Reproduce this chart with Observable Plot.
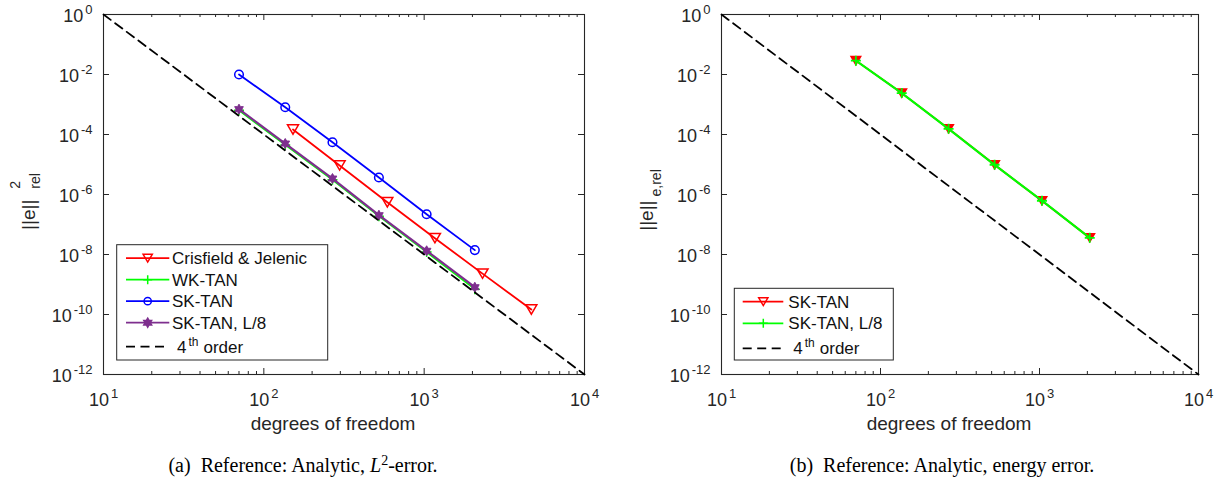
<!DOCTYPE html>
<html><head><meta charset="utf-8">
<script src="https://cdn.jsdelivr.net/npm/d3@7"></script>
<script src="https://cdn.jsdelivr.net/npm/@observablehq/plot@0.6"></script>
<style>
body{margin:0;background:#fff;width:1225px;height:482px;position:relative;overflow:hidden;font-family:"Liberation Sans",Arial,sans-serif;}
.panel{position:absolute;top:0;}
.cap{position:absolute;font-family:"Liberation Serif","Times New Roman",serif;font-size:20px;line-height:20px;white-space:pre;text-align:center;width:500px;color:#000;}
.cap .sp{font-size:14px;position:relative;top:-7px;}
</style></head><body>
<div id="a" class="panel" style="left:0"></div>
<div id="b" class="panel" style="left:612px"></div>
<div class="cap" style="left:53px;top:455px">(a)  Reference: Analytic, <i>L</i><span class="sp">2</span>-error.</div>
<div class="cap" style="left:692px;top:455px">(b)  Reference: Analytic, energy error.</div>
<script>
// ---------- data ----------
const dof   = [70, 136, 268, 522, 1036, 2070];
const dofCJ = [152, 297, 589, 1167, 2312, 4660];
const errCJ   = [1.47e-4, 9.3e-6, 5.5e-7, 3.5e-8, 2.3e-9, 1.47e-10];
const errWK   = [6.4e-4, 4.5e-5, 3.1e-6, 1.9e-7, 1.2e-8, 7.0e-10];
const errSK   = [1.0e-2, 8.1e-4, 5.5e-5, 3.7e-6, 2.2e-7, 1.4e-8];
const errSKL8 = [7.0e-4, 5.0e-5, 3.4e-6, 2.04e-7, 1.33e-8, 8.1e-10];
const errE_SK   = [2.9e-2, 2.4e-3, 1.55e-4, 9.8e-6, 6.2e-7, 3.6e-8];
const errE_SKL8 = [2.9e-2, 2.4e-3, 1.55e-4, 9.8e-6, 6.2e-7, 3.6e-8];
const refDof = [10, 10000];
const refErr = [1, 1e-12];
const xTicks = [10, 100, 1000, 10000];
const xMinor = [20,30,40,50,60,70,80,90,200,300,400,500,600,700,800,900,2000,3000,4000,5000,6000,7000,8000,9000];
const yTicks = [1, 1e-2, 1e-4, 1e-6, 1e-8, 1e-10, 1e-12];
const xLabel = "degrees of freedom";
const yLabelA = {base: "||e||", sup: "2", sub: "rel"};
const yLabelB = {base: "||e||", sub: "e,rel"};
const namesA = ["Crisfield & Jelenic", "WK-TAN", "SK-TAN", "SK-TAN, L/8", "4th order"];
const namesB = ["SK-TAN", "SK-TAN, L/8", "4th order"];

// ---------- styles ----------
const RED = "#ff0000", GREEN = "#00ff00", BLUE = "#0000ff", PURPLE = "#7e2f8e", AX = "#262626";
const FONT = "'Liberation Sans', Arial, sans-serif";
const triDown = {draw(ctx, size){ const r = Math.sqrt(size/Math.PI), h = r*0.85; ctx.moveTo(-r,-h); ctx.lineTo(r,-h); ctx.lineTo(0,h); ctx.closePath(); }};
const plusSym = {draw(ctx, size){ const r = Math.sqrt(size/Math.PI); ctx.moveTo(-r,0); ctx.lineTo(r,0); ctx.moveTo(0,-r); ctx.lineTo(0,r); }};
const circSym = {draw(ctx, size){ const r = Math.sqrt(size/Math.PI); ctx.moveTo(r,0); ctx.arc(0,0,r,0,2*Math.PI); }};
const hexagram = {draw(ctx, size){ const R = Math.sqrt(size/Math.PI), ri = R/Math.sqrt(3);
  for (let i=0;i<12;i++){ const a = -Math.PI/2 + i*Math.PI/6, rr = i%2 ? ri : R; const x = rr*Math.cos(a), y = rr*Math.sin(a); if(i) ctx.lineTo(x,y); else ctx.moveTo(x,y);} ctx.closePath(); }};

const rows = (xs, ys) => xs.map((x,i) => ({x, y: ys[i]}));
const refRows = rows(refDof, refErr);

function frameMarks(W){
  return [
    Plot.frame({stroke: AX, strokeWidth: 1.1}),
    Plot.tickX(xTicks, {x: d=>d, insetBottom: 354, stroke: AX}),
    Plot.tickX(xTicks, {x: d=>d, insetTop: 354, stroke: AX}),
    Plot.tickX(xMinor, {x: d=>d, insetBottom: 357, stroke: AX}),
    Plot.tickX(xMinor, {x: d=>d, insetTop: 357, stroke: AX}),
    Plot.tickY(yTicks, {y: d=>d, insetRight: W-6, stroke: AX}),
    Plot.tickY(yTicks, {y: d=>d, insetLeft: W-6, stroke: AX}),
    Plot.axisX({ticks: xTicks, tickSize: 0, tickPadding: 19, label: null, fontSize: 18, tickFormat: d => "10^" + Math.round(Math.log10(d))}),
    Plot.axisY({ticks: yTicks, tickSize: 0, tickPadding: 11, label: null, fontSize: 18, dy: 2, tickFormat: d => "10^" + Math.round(Math.log10(d))}),
    Plot.text([xLabel], {frameAnchor: "bottom", text: d=>d, dy: 55, dx: -11, fontSize: 19, fill: AX}),
  ];
}

function makePlot(width, marginLeft, marginRight, series, yl){
  const W = width - marginLeft - marginRight;
  return Plot.plot({
    width, height: 440, marginLeft, marginRight, marginTop: 14, marginBottom: 66,
    x: {type: "log", domain: [10, 1e4]},
    y: {type: "log", domain: [1e-12, 1]},
    style: {fontFamily: FONT, fontSize: "18px", color: AX, background: "white", overflow: "visible"},
    marks: [
      ...frameMarks(W),
      Plot.text([yl.base], {frameAnchor: "left", textAnchor: "middle", text: d=>d, rotate: -90, dx: -75, dy: yl.sup ? 7 : 5.5, fontSize: 19, fill: AX}),
      ...series,
      Plot.line(refRows, {x: "x", y: "y", stroke: "black", strokeWidth: 1.8, strokeDasharray: "9,5.5"})
    ]
  });
}

function seriesMarks(xs, ys, color, sym, r, opts = {}){
  const d = rows(xs, ys);
  return [
    Plot.line(d, {x: "x", y: "y", stroke: color, strokeWidth: opts.lw || 1.8}),
    Plot.dot(d, {x: "x", y: "y", symbol: sym, r, stroke: color, fill: opts.fill || "none", strokeWidth: opts.mw || 1.5})
  ];
}

function postProcess(svg, yl){
  d3.select(svg).selectAll("text").each(function(){
    const m = /^10\^(-?\d+)$/.exec(this.textContent);
    if (m) {
      const t = d3.select(this); t.text(null);
      t.attr("font-size", 18);
      t.append("tspan").text("10");
      t.append("tspan").attr("dx", 2).attr("dy", -8).attr("font-size", 13).text(m[1]);
    } else if (this.textContent === yl.base && !this.querySelector("tspan")) {
      const t = d3.select(this); t.text(null);
      t.attr("font-size", 19).attr("text-anchor", "middle");
      t.append("tspan").text(yl.base);
      if (yl.sup) {
        t.append("tspan").attr("dx", 11).attr("dy", -15).attr("font-size", 14).text(yl.sup);
        t.append("tspan").attr("dx", -7.8).attr("dy", 20).attr("font-size", 14).text(yl.sub);
      } else {
        t.append("tspan").attr("dx", 4).attr("dy", 8).attr("font-size", 14).text(yl.sub);
      }
    }
  });
}

function addLegend(svg, box, items){
  const g = d3.select(svg).append("g").attr("text-anchor", "start");
  g.append("rect").attr("x", box.x).attr("y", box.y).attr("width", box.w).attr("height", box.h)
    .attr("fill", "white").attr("stroke", AX).attr("stroke-width", 1);
  items.forEach((it, i) => {
    const cy = box.y + box.rows[i];
    g.append("line").attr("x1", box.x + box.l0).attr("x2", box.x + box.l1).attr("y1", cy).attr("y2", cy)
      .attr("stroke", it.color).attr("stroke-width", 1.8).attr("stroke-dasharray", it.dash || null);
    if (it.sym) {
      g.append("path").attr("transform", `translate(${box.x + box.m},${cy})`)
        .attr("d", d3.symbol(it.sym, Math.PI * it.r * it.r)())
        .attr("fill", it.fill || "none").attr("stroke", it.color).attr("stroke-width", 1.5);
    }
    const t = g.append("text").attr("x", box.x + box.t).attr("y", cy).attr("dy", "0.36em")
      .attr("text-anchor", "start").attr("font-size", 17).attr("fill", "#111").attr("font-family", FONT);
    const m = /^(\d+)(th) (.*)$/.exec(it.label);
    if (m) {
      t.append("tspan").attr("dx", 5).text(m[1]);
      t.append("tspan").attr("dx", 2).attr("dy", -7).attr("font-size", 12).text(m[2]);
      t.append("tspan").attr("dx", 5).attr("dy", 7).text(m[3]);
    } else t.text(it.label);
  });
}

// ---------- panel (a) ----------
const plotA = makePlot(612, 103, 28, [
  ...seriesMarks(dofCJ, errCJ, RED, triDown, 5.5),
  ...seriesMarks(dof, errWK, GREEN, plusSym, 5),
  ...seriesMarks(dof, errSK, BLUE, circSym, 4.3),
  ...seriesMarks(dof, errSKL8, PURPLE, hexagram, 5, {lw: 2.2, fill: PURPLE, mw: 1})
], yLabelA);
postProcess(plotA, yLabelA);
addLegend(plotA, {x: 116.7, y: 244.7, w: 211, h: 115.3, rows: [13.5, 35, 56.5, 78, 102], l0: 9.3, l1: 52.6, m: 31, t: 55.3}, [
  {label: namesA[0], color: RED, sym: triDown, r: 4.6},
  {label: namesA[1], color: GREEN, sym: plusSym, r: 4.5},
  {label: namesA[2], color: BLUE, sym: circSym, r: 3.6},
  {label: namesA[3], color: PURPLE, sym: hexagram, r: 4.5, fill: PURPLE},
  {label: namesA[4], color: "black", dash: "9,5.5"}
]);
document.getElementById("a").append(plotA);

// ---------- panel (b) ----------
const plotB = makePlot(613, 109, 27, [
  ...seriesMarks(dof, errE_SK, RED, triDown, 4.8, {fill: RED}),
  ...seriesMarks(dof, errE_SKL8, GREEN, plusSym, 5, {lw: 2.2, mw: 1.8})
], yLabelB);
postProcess(plotB, yLabelB);
addLegend(plotB, {x: 122.3, y: 288.3, w: 159, h: 71.7, rows: [13.4, 35, 60], l0: 8.4, l1: 49, m: 29, t: 54}, [
  {label: namesB[0], color: RED, sym: triDown, r: 4.6},
  {label: namesB[1], color: GREEN, sym: plusSym, r: 4.5},
  {label: namesB[2], color: "black", dash: "9,5.5"}
]);
document.getElementById("b").append(plotB);
</script>
</body></html>
